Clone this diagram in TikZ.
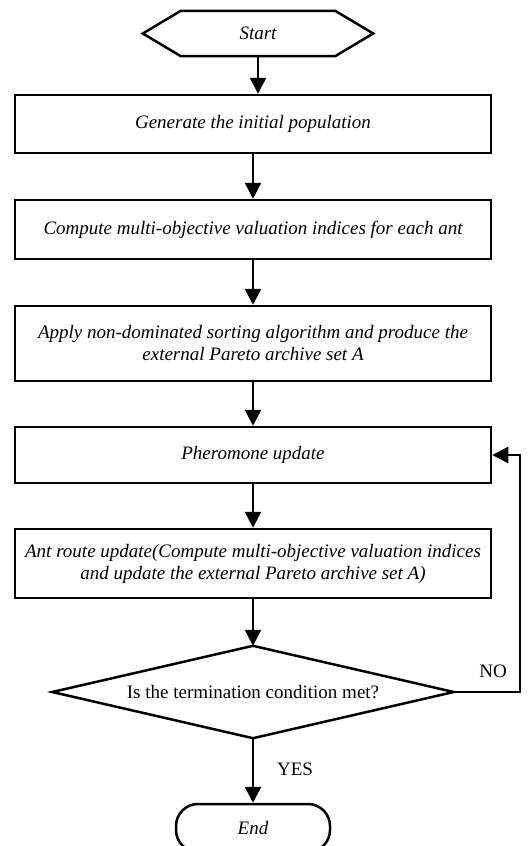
\documentclass[tikz,border=0pt]{standalone}
\usepackage{fontspec}
\setmainfont{Liberation Serif}
\usetikzlibrary{arrows.meta,positioning}
\begin{document}
\begin{tikzpicture}[x=1pt,y=-1pt,
  every node/.style={inner sep=0pt},
  procbox/.style={draw,line width=2.5pt,minimum width=476pt,align=center,font=\fontsize{19}{22}\selectfont\itshape},
  decbox/.style={minimum width=401pt,minimum height=92pt,font=\fontsize{19}{22}\selectfont},
  termbox/.style={draw,line width=2.5pt,rounded corners=22pt,minimum width=154pt,minimum height=48pt,font=\fontsize{19}{22}\selectfont\itshape},
  flow/.style={line width=2.5pt,-{Triangle[width=16pt,length=16pt]}},
  lbl/.style={font=\fontsize{19}{22}\selectfont}
]
\useasboundingbox (0,0) rectangle (532,846);
% Start hexagon
\node[minimum width=230pt,minimum height=45pt,font=\fontsize{19}{22}\selectfont\itshape] (start) at (258,33.5) {Start};
\draw[line width=2.5pt,line join=miter] (start.west) -- ([xshift=38pt]start.north west) -- ([xshift=-38pt]start.north east) -- (start.east) -- ([xshift=-38pt]start.south east) -- ([xshift=38pt]start.south west) -- cycle;
% Process boxes
\node[procbox,minimum height=58pt] (b1) at (253,124) {Generate the initial population};
\node[procbox,minimum height=59pt] (b2) at (253,229.5) {Compute multi-objective valuation indices for each ant};
\node[procbox,minimum height=75pt] (b3) at (253,343.5) {Apply non-dominated sorting algorithm and produce the\\external Pareto archive set A};
\node[procbox,minimum height=56pt] (b4) at (253,455) {Pheromone update};
\node[procbox,minimum height=69pt] (b5) at (253,563.5) {Ant route update(Compute multi-objective valuation indices\\and update the external Pareto archive set A)};
% Decision
\node[decbox] (dec) at (253,692) {Is the termination condition met?};
\draw[line width=2.5pt] (dec.west) -- (dec.north) -- (dec.east) -- (dec.south) -- cycle;
% End
\node[termbox] (end) at (253,828) {End};
% Labels
\node[lbl] (no) at (493,671) {NO};
\node[lbl] (yes) at (295,769) {YES};
\coordinate (fb) at (520,692);
% Connectors
\draw[flow] (start.south) -- (start.south |- b1.north);
\draw[flow] (b1) -- (b2);
\draw[flow] (b2) -- (b3);
\draw[flow] (b3) -- (b4);
\draw[flow] (b4) -- (b5);
\draw[flow] (b5) -- (dec.north);
\draw[flow] (dec.south) -- (end);
\draw[flow] (dec.east) -- (fb) |- (b4.east);
\end{tikzpicture}
\end{document}
